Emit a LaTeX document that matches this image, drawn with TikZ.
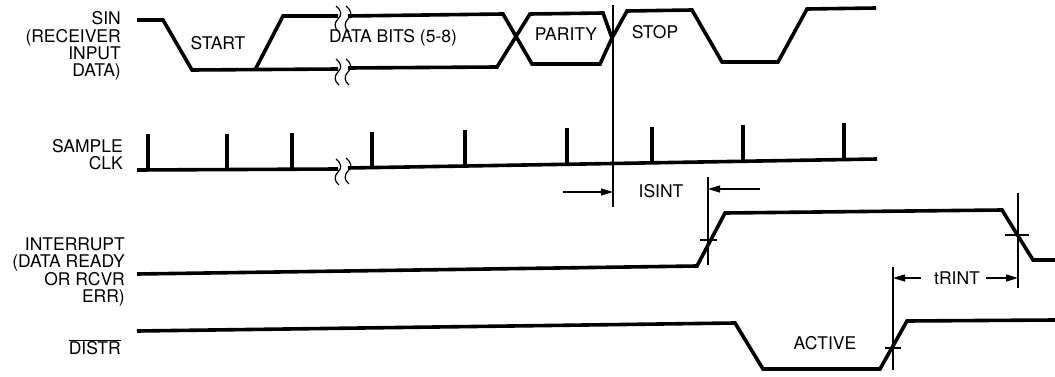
\documentclass[tikz,border=0pt]{standalone}
\usepackage{fontspec}
\setmainfont{TeX Gyre Heros}
\usetikzlibrary{arrows.meta}
\begin{document}
\begin{tikzpicture}[x=1pt,y=-1pt,
  sig/.style={line width=3.6pt,line join=miter,line cap=butt},
  thinline/.style={line width=1.3pt},
  brk/.style={line width=1.2pt},
  lbl/.style={font=\fontsize{17.5}{17.2}\selectfont,inner sep=0pt},
  sidelbl/.style={lbl,align=right,anchor=east},
  dimarrow/.style={thinline,-{Triangle[length=12pt,width=7pt]}}]
\useasboundingbox (0,0) rectangle (1055,377);
\newcommand\squig[2]{%
  \draw[brk] (#1-2,#2-10) .. controls (#1+4,#2-5) and (#1+4,#2-1) .. (#1,#2+3)
    .. controls (#1-4,#2+7) and (#1-4,#2+12) .. (#1+1,#2+16);}
% ---------- labels ----------
\node[sidelbl] (lsin) at (121,46) {SIN\\(RECEIVER\\INPUT\\DATA)};
\node[sidelbl] (lclk) at (123,155) {SAMPLE\\CLK};
\node[sidelbl] (lint) at (125,272) {INTERRUPT\\(DATA READY\\OR RCVR\\ERR)};
\node[sidelbl] (ldis) at (121,347) {$\overline{\mbox{DISTR}}$};
% ---------- SIN ----------
\draw[sig] (137,20) -- (163,20) -- (192,70) -- (338,69);
\draw[sig] (255,70) -- (283,16) -- (338,16);
\draw[sig] (348,16) -- (503,14) -- (532,64) -- (600,64) -- (612,38) -- (627,11)
  -- (692,10) -- (722,62) -- (778,62) -- (807,9) -- (876,8);
\draw[sig] (348,68) -- (497,67) -- (530,14) -- (603,13) -- (612,38);
\squig{338}{16}\squig{348}{16}
\squig{338}{69}\squig{348}{69}
\node[lbl] (tstart) at (218,43) {START};
\node[lbl] (tdata) at (393,38) {DATA BITS (5-8)};
\node[lbl] (tpar) at (566,34) {PARITY};
\node[lbl] (tstop) at (655,32) {STOP};
% ---------- SAMPLE CLK ----------
\draw[sig] (137,170) -- (338,169);
\draw[sig] (348,168) -- (877,159);
\squig{338}{169}\squig{348}{168}
\foreach \x/\y in {148/170,227/170,292/169,372/168,465/166,567/164,652/163,743/161,844/159}
  \draw[sig] (\x,\y) -- (\x,\y-36);
% ---------- ISINT ----------
\draw[thinline] (613,5) -- (613,207);
\draw[thinline] (708,177) -- (708,265);
\draw[dimarrow] (563,192) -- (613,192);
\draw[dimarrow] (760,189) -- (708,189);
\node[lbl] (tisint) at (661,191) {ISINT};
% ---------- INTERRUPT ----------
\draw[sig] (137,274) -- (697,266) -- (725,213) -- (1002,210) -- (1033,260) -- (1055,260);
\draw[thinline] (700,240) -- (717,240);
\draw[thinline] (1018,193) -- (1018,288);
\draw[thinline] (1005,235) -- (1029,235);
% ---------- tRINT ----------
\draw[thinline] (893,267) -- (893,370);
\draw[dimarrow] (921,278) -- (893,278);
\draw[dimarrow] (986,278) -- (1018,278);
\node[lbl] (ttrint) at (957,278) {tRINT};
% ---------- DISTR ----------
\draw[sig] (137,331) -- (735,323) -- (763,369) -- (880,369) -- (907,321) -- (1055,320);
\draw[thinline] (885,348) -- (901,348);
\node[lbl] (tact) at (825,343) {ACTIVE};
\end{tikzpicture}
\end{document}
